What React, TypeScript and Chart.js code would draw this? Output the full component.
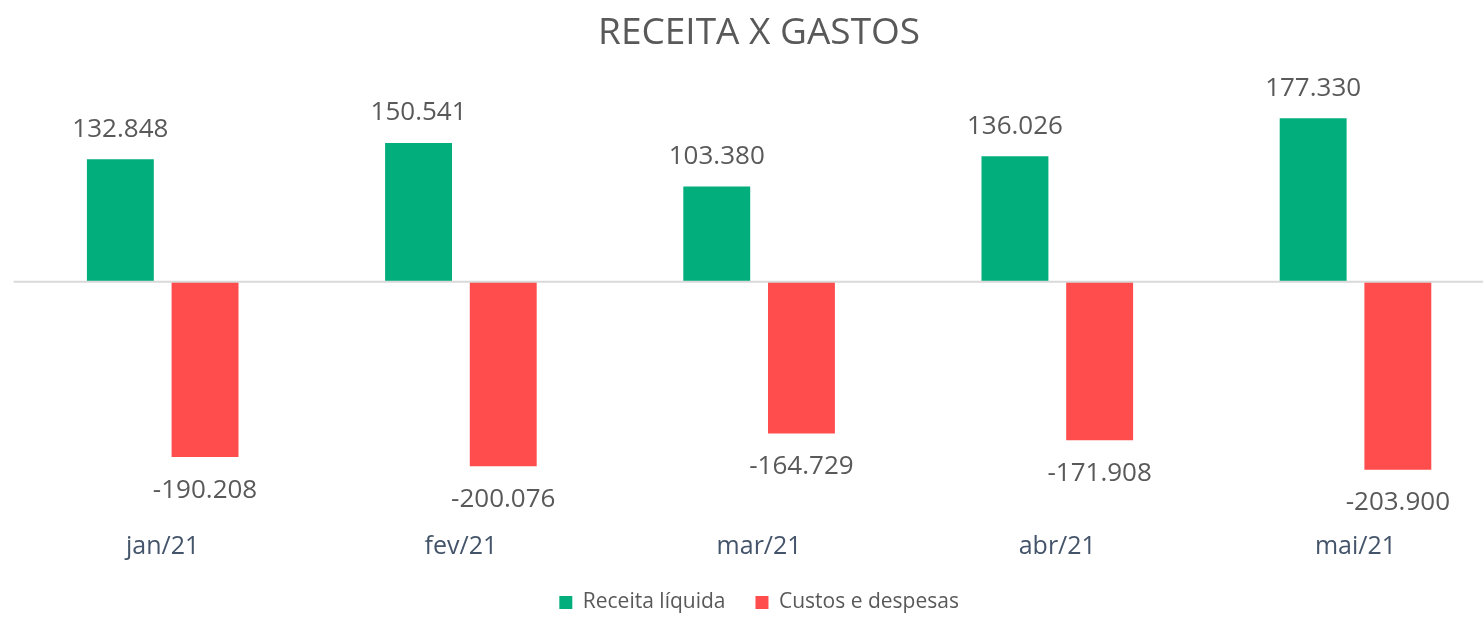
import React, { useEffect, useRef } from 'react';
import { Chart, registerables } from 'chart.js';

Chart.register(...registerables);

const categories = ['jan/21', 'fev/21', 'mar/21', 'abr/21', 'mai/21'];
const receitaLiquida = [132848, 150541, 103380, 136026, 177330];
const custosDespesas = [-190208, -200076, -164729, -171908, -203900];
const seriesNames = ['Receita líquida', 'Custos e despesas'];
const chartTitle = 'RECEITA X GASTOS';
const yMin = -240000;
const yMax = 200000;

const FONT = '"Open Sans", "Noto Sans", sans-serif';
const GREEN = '#03AE7D';
const RED = '#FF4D4D';
const GRAY_TEXT = '#595959';
const AXIS_TEXT = '#44546A';

function fmt(v: number): string {
  const s = Math.abs(Math.round(v)).toString().replace(/\B(?=(\d{3})+(?!\d))/g, '.');
  return (v < 0 ? '-' : '') + s;
}

const zeroLine = {
  id: 'zeroLine',
  afterDatasetsDraw(chart: any) {
    const { ctx, chartArea } = chart;
    const y = chart.scales.y;
    const py = y.getPixelForValue(0);
    ctx.save();
    ctx.strokeStyle = '#D9D9D9';
    ctx.lineWidth = 2;
    ctx.beginPath();
    ctx.moveTo(chartArea.left, py);
    ctx.lineTo(chart.width, py);
    ctx.stroke();
    ctx.restore();
  },
};

const valueLabels = {
  id: 'valueLabels',
  afterDatasetsDraw(chart: any) {
    const { ctx } = chart;
    ctx.save();
    ctx.font = `26px ${FONT}`;
    ctx.fillStyle = GRAY_TEXT;
    ctx.textAlign = 'center';
    ctx.textBaseline = 'middle';
    chart.data.datasets.forEach((ds: any, di: number) => {
      const meta = chart.getDatasetMeta(di);
      meta.data.forEach((el: any, i: number) => {
        const v = ds.data[i] as number;
        const { x, y } = el.getProps(['x', 'y'], true);
        const ty = v >= 0 ? y - 30 : y + 33;
        ctx.fillText(fmt(v), x, ty);
      });
    });
    ctx.restore();
  },
};

export default function App() {
  const canvasRef = useRef<HTMLCanvasElement | null>(null);

  useEffect(() => {
    if (!canvasRef.current) return;
    const chart = new Chart(canvasRef.current, {
      type: 'bar',
      data: {
        labels: categories,
        datasets: [
          {
            label: seriesNames[0],
            data: receitaLiquida,
            backgroundColor: GREEN,
            barPercentage: 0.79,
            categoryPercentage: 0.568,
          },
          {
            label: seriesNames[1],
            data: custosDespesas,
            backgroundColor: RED,
            barPercentage: 0.79,
            categoryPercentage: 0.568,
          },
        ],
      },
      options: {
        responsive: false,
        animation: false,
        layout: { padding: { left: 13.6, right: 13.4, top: 0, bottom: 0 } },
        plugins: {
          title: {
            display: true,
            text: chartTitle,
            color: GRAY_TEXT,
            font: { family: FONT, size: 37, weight: 'normal' },
            padding: { top: 11, bottom: 42 },
          },
          legend: {
            position: 'bottom',
            labels: {
              color: GRAY_TEXT,
              font: { family: FONT, size: 21 },
              boxWidth: 13,
              boxHeight: 13,
              padding: 30,
            },
          },
          tooltip: { enabled: false },
        },
        scales: {
          x: {
            grid: { display: false, drawTicks: false },
            border: { display: false },
            ticks: { color: AXIS_TEXT, font: { family: FONT, size: 25 }, padding: 29 },
            afterFit: (scale: any) => {
              scale.height = 59;
            },
          },
          y: { display: false, min: yMin, max: yMax },
        },
      },
      plugins: [zeroLine, valueLabels],
    });
    return () => chart.destroy();
  }, []);

  return (
    <div
      style={{
        position: 'fixed',
        left: 0,
        top: 0,
        width: 1483,
        height: 623,
        overflow: 'hidden',
        background: '#ffffff',
      }}
    >
      <canvas ref={canvasRef} width={1518} height={623} style={{ width: 1518, height: 623, display: 'block' }} />
    </div>
  );
}
